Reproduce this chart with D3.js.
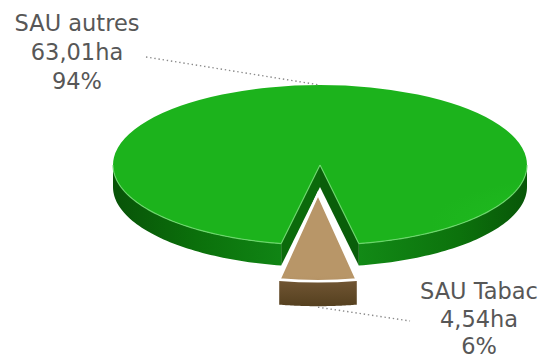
<!DOCTYPE html>
<html>
<head>
<meta charset="utf-8">
<script src="https://cdn.jsdelivr.net/npm/d3@7"></script>
<style>
  html, body { margin: 0; padding: 0; background: #fff; }
  svg { display: block; }
  text { font-family: "DejaVu Sans", Verdana, sans-serif; fill: #575757; }
</style>
</head>
<body>
<svg id="chart" width="547" height="361"></svg>
<script>
// Surface agricole utile : répartition tabac / autres cultures
const categories = ["SAU autres", "SAU Tabac"];
const hectares = [63.01, 4.54];
const shares = [94, 6];            // part en %, taille des parts du camembert
const shareLabels = ["94%", "6%"];

const fr = d3.formatLocale({ decimal: ",", thousands: " ", grouping: [3], currency: ["", " €"] });
const fmtHa = v => fr.format(".2f")(v) + "ha";

const svg = d3.select("#chart");
const defs = svg.append("defs");

// Ellipse geometry of the tilted disc
const base = { x: 320, y: 165, rx: 207, ry: 80, depth: 22 };
// The exploded slice sits lower and slightly nearer to the eye
const explode = { dx: -2, dy: 29, scaleY: 1.09, depth: 25 };

const frac = shares[1] / d3.sum(shares);
const start = -Math.PI + Math.PI * frac;   // centre the small slice at the front
const pie = d3.pie().sort(null).value(d => d)
  .startAngle(start).endAngle(start + 2 * Math.PI);
const arcs = pie(shares);

function geom(i) {
  if (i === 0) return base;
  return { x: base.x + explode.dx, y: base.y + explode.dy, rx: base.rx,
           ry: base.ry * explode.scaleY, depth: explode.depth };
}
const pt = (g, a, dz = 0) => [g.x + g.rx * Math.sin(a), g.y - g.ry * Math.cos(a) + dz];

// Angle spans of a slice whose outer wall faces the viewer
function frontSpans(a0, a1) {
  const out = [];
  for (let k = -1; k <= 1; k++) {
    const lo = Math.max(a0, Math.PI / 2 + 2 * Math.PI * k);
    const hi = Math.min(a1, 3 * Math.PI / 2 + 2 * Math.PI * k);
    if (hi > lo) out.push([lo, hi]);
  }
  return out;
}

function wallPath(g, a0, a1) {
  const n = 60, p = d3.path();
  for (let j = 0; j <= n; j++) {
    const [x, y] = pt(g, a0 + (a1 - a0) * j / n);
    j ? p.lineTo(x, y) : p.moveTo(x, y);
  }
  for (let j = n; j >= 0; j--) {
    const [x, y] = pt(g, a0 + (a1 - a0) * j / n, g.depth);
    p.lineTo(x, y);
  }
  p.closePath();
  return p.toString();
}

function rimPath(g, a0, a1) {
  const n = 60, p = d3.path();
  for (let j = 0; j <= n; j++) {
    const [x, y] = pt(g, a0 + (a1 - a0) * j / n);
    j ? p.lineTo(x, y) : p.moveTo(x, y);
  }
  return p.toString();
}

function cutFace(g, a) {
  const [x, y] = pt(g, a);
  const p = d3.path();
  p.moveTo(g.x, g.y); p.lineTo(x, y); p.lineTo(x, y + g.depth);
  p.lineTo(g.x, g.y + g.depth); p.closePath();
  return p.toString();
}

// Gradients
function linGrad(id, x1, y1, x2, y2, stops) {
  const gr = defs.append("linearGradient").attr("id", id)
    .attr("gradientUnits", "userSpaceOnUse")
    .attr("x1", x1).attr("y1", y1).attr("x2", x2).attr("y2", y2);
  stops.forEach(([o, c]) => gr.append("stop").attr("offset", o).attr("stop-color", c));
}
linGrad("wallL", 113, 0, 280, 0, [[0, "#085308"], [0.5, "#0b700b"], [1, "#108414"]]);
linGrad("wallR", 357, 0, 527, 0, [[0, "#128a16"], [0.6, "#0c720c"], [1, "#085608"]]);
const topG = defs.append("radialGradient").attr("id", "topG")
  .attr("gradientUnits", "userSpaceOnUse")
  .attr("cx", 340).attr("cy", 150).attr("r", 230)
  .attr("gradientTransform", "translate(0,60) scale(1,0.6)");
topG.append("stop").attr("offset", 0).attr("stop-color", "#24c424");
topG.append("stop").attr("offset", 1).attr("stop-color", "#1cb31c");
linGrad("brownTop", 0, 195, 0, 282, [[0, "#b89668"], [0.55, "#a98557"], [1, "#936e41"]]);
linGrad("brownWall", 0, 282, 0, 306, [[0, "#6f5432"], [1, "#55401f"]]);

const green = arcs[0], brown = arcs[1];
const g0 = geom(0), g1 = geom(1);

// Green slice: outer wall, cut faces, top
frontSpans(green.startAngle, green.endAngle).forEach(([a0, a1]) => {
  svg.append("path").attr("d", wallPath(g0, a0, a1))
    .attr("fill", pt(g0, (a0 + a1) / 2)[0] < g0.x ? "url(#wallL)" : "url(#wallR)");
});
svg.append("path").attr("d", cutFace(g0, green.startAngle)).attr("fill", "#0b6a0b");
svg.append("path").attr("d", cutFace(g0, green.endAngle)).attr("fill", "#0a5e0a");

const topArc = d3.arc().innerRadius(0).outerRadius(base.rx);
svg.append("path")
  .attr("d", topArc(green))
  .attr("transform", `translate(${g0.x},${g0.y}) scale(1,${g0.ry / g0.rx})`)
  .attr("fill", "url(#topG)");

// Light rim along the front edge and the cut edges of the green top
frontSpans(green.startAngle, green.endAngle).forEach(([a0, a1]) => {
  svg.append("path").attr("d", rimPath(g0, a0, a1))
    .attr("fill", "none").attr("stroke", "#72dc72").attr("stroke-width", 1.2).attr("opacity", 0.85);
});
[green.startAngle, green.endAngle].forEach(a => {
  const [x, y] = pt(g0, a);
  svg.append("line").attr("x1", g0.x).attr("y1", g0.y).attr("x2", x).attr("y2", y)
    .attr("stroke", "#72dc72").attr("stroke-width", 1.2).attr("opacity", 0.85);
});

// Brown slice, pulled out towards the front
frontSpans(brown.startAngle, brown.endAngle).forEach(([a0, a1]) => {
  svg.append("path").attr("d", wallPath(g1, a0, a1)).attr("fill", "url(#brownWall)");
  svg.append("path").attr("d", rimPath(g1, a0, a1))
    .attr("fill", "none").attr("stroke", "#9c8058").attr("stroke-width", 1.2);
});
svg.append("path")
  .attr("d", topArc(brown))
  .attr("transform", `translate(${g1.x},${g1.y}) scale(1,${g1.ry / g1.rx})`)
  .attr("fill", "url(#brownTop)")
  .attr("stroke", "#ffffff").attr("stroke-width", 2.6)
  .attr("vector-effect", "non-scaling-stroke")
  .attr("stroke-linejoin", "miter");

// Leader lines and labels
const midG = (green.startAngle + green.endAngle) / 2;
const midB = (brown.startAngle + brown.endAngle) / 2;
const anchorG = pt(g0, midG);
const anchorB = pt(g1, midB, g1.depth);

const labels = [
  { lines: [categories[0], fmtHa(hectares[0]), shareLabels[0]], x: 77, y: [31, 60, 89],
    from: [146, 57], to: anchorG },
  { lines: [categories[1], fmtHa(hectares[1]), shareLabels[1]], x: 479, y: [299, 327, 354],
    from: [anchorB[0], anchorB[1] + 1], to: [410, 321] }
];

labels.forEach(l => {
  svg.append("line")
    .attr("x1", l.from[0]).attr("y1", l.from[1]).attr("x2", l.to[0]).attr("y2", l.to[1])
    .attr("stroke", "#8a8a8a").attr("stroke-width", 1.4)
    .attr("stroke-dasharray", "1.4,2.8");
  l.lines.forEach((t, j) => {
    svg.append("text").attr("x", l.x).attr("y", l.y[j])
      .attr("text-anchor", "middle").attr("font-size", 22.5).text(t);
  });
});
</script>
</body>
</html>
